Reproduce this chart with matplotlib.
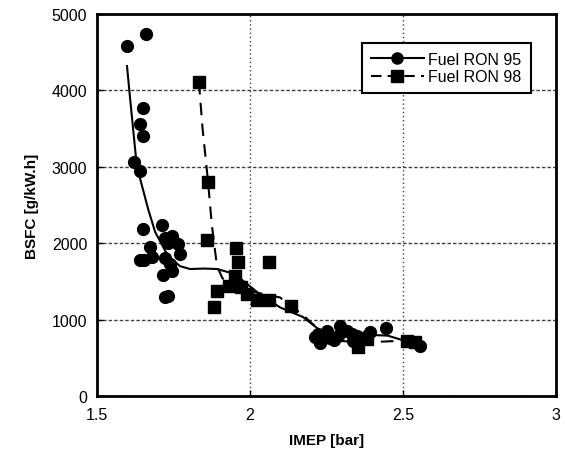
import matplotlib
matplotlib.use("Agg")
import matplotlib.pyplot as plt
from matplotlib.lines import Line2D

plt.rcParams['font.family'] = ['Liberation Sans', 'DejaVu Sans']

# measured points, Fuel RON 95
imep_95 = [1.598, 1.660, 1.650, 1.641, 1.650, 1.621, 1.641, 1.650, 1.712, 1.722,
           1.745, 1.732, 1.765, 1.673, 1.771, 1.641, 1.680, 1.722, 1.739, 1.716,
           1.745, 1.722, 1.732, 1.652,
           2.212, 2.222, 2.252, 2.262, 2.294, 2.288, 2.318, 2.333, 2.337, 2.350,
           2.382, 2.392, 2.444, 2.556, 2.228, 2.275]
bsfc_95 = [4581, 4738, 3770, 3560, 3403, 3063, 2945, 2186, 2238, 2068,
           2094, 2000, 1990, 1950, 1859, 1780, 1819, 1806, 1728, 1584,
           1636, 1296, 1309, 1780,
           772, 811, 851, 760, 916, 785, 850, 811, 720, 790,
           785, 838, 890, 654, 700, 730]

# measured points, Fuel RON 98
imep_98 = [1.833, 1.863, 1.859, 1.954, 1.961, 2.062, 1.951, 1.931, 1.971, 1.892,
           1.990, 2.023, 2.062, 2.134, 1.882, 2.353, 2.382, 2.513, 2.539, 2.230]
bsfc_98 = [4110, 2800, 2042, 1937, 1754, 1754, 1571, 1440, 1427, 1374,
           1335, 1257, 1257, 1178, 1165, 641, 746, 720, 707, 760]

# trend lines
fit_x_95 = [1.598, 1.608, 1.630, 1.667, 1.690, 1.732, 1.771, 1.804, 1.850, 1.892,
            1.930, 1.958, 2.023, 2.098, 2.173, 2.229, 2.280, 2.330, 2.390, 2.450,
            2.500, 2.556]
fit_y_95 = [4319, 3900, 3010, 2448, 2147, 1833, 1700, 1662, 1668, 1662,
            1620, 1571, 1361, 1160, 1034, 860, 800, 790, 800, 790,
            730, 680]
fit_x_98 = [1.833, 1.845, 1.863, 1.875, 1.892, 1.910, 1.940, 1.970, 2.000, 2.050,
            2.098, 2.173, 2.230, 2.300, 2.360, 2.420, 2.480, 2.539]
fit_y_98 = [4110, 3500, 2800, 2250, 1702, 1540, 1470, 1410, 1370, 1330,
            1290, 1060, 850, 720, 700, 710, 720, 707]

fig = plt.figure(figsize=(5.65, 4.64), dpi=100)
ax = fig.add_axes([0.1717, 0.1444, 0.8123, 0.8233])

ax.plot(fit_x_95, fit_y_95, color='black', lw=1.5, zorder=3)
ax.plot(fit_x_98, fit_y_98, color='black', lw=1.5, ls=(0, (6, 4)), zorder=3)
ax.plot(imep_95, bsfc_95, 'o', color='black', ms=8.5, ls='none', zorder=4)
ax.plot(imep_98, bsfc_98, 's', color='black', ms=8, ls='none', zorder=4)

ax.set_xlim(1.5, 3)
ax.set_ylim(0, 5000)
ax.set_xticks([1.5, 2, 2.5, 3])
ax.set_xticklabels(['1.5', '2', '2.5', '3'])
ax.set_yticks([0, 1000, 2000, 3000, 4000, 5000])

ax.xaxis.grid(True, color='0.25', ls=(0, (1, 2)), lw=1)
ax.yaxis.grid(True, color='0.25', ls=(0, (2.5, 1.5)), lw=1)
ax.set_axisbelow(True)

for s in ax.spines.values():
    s.set_linewidth(2)
ax.tick_params(direction='in', length=4, width=1, labelsize=11.5)
ax.tick_params(axis='x', pad=8)
ax.tick_params(axis='y', pad=7)

ax.set_xlabel('IMEP [bar]', fontsize=11, fontweight='bold', labelpad=8)
ax.set_ylabel('BSFC [g/kW.h]', fontsize=11, fontweight='bold', labelpad=9)

handles = [Line2D([], [], color='black', lw=1.5, marker='o', ms=8),
           Line2D([], [], color='black', lw=1.5, ls=(0, (5, 3)), marker='s', ms=8)]
leg = ax.legend(handles, ['Fuel RON 95', 'Fuel RON 98'], loc='upper right',
                bbox_to_anchor=(0.962, 0.945), fontsize=11.5, fancybox=False,
                framealpha=1, edgecolor='black', handlelength=3.3,
                borderpad=0.55, labelspacing=0.15, handletextpad=0.3)
leg.get_frame().set_linewidth(1.5)

fig.savefig('out.png', dpi=100)
